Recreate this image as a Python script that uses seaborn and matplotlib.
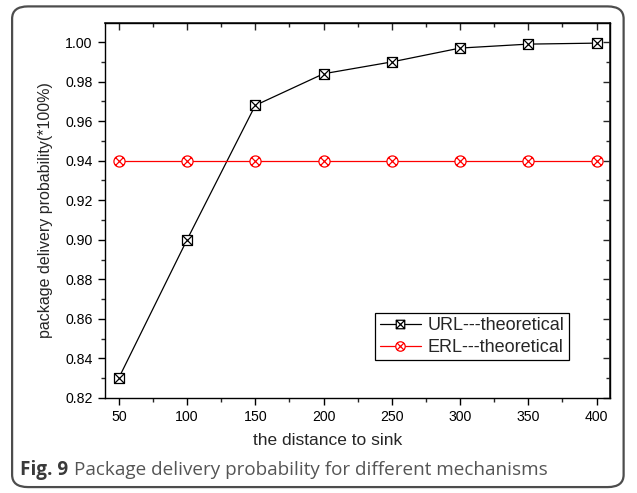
import numpy as np
import matplotlib
matplotlib.use("Agg")
import matplotlib.pyplot as plt
from matplotlib.path import Path
from matplotlib.patches import FancyBboxPatch
from matplotlib.ticker import MultipleLocator
import seaborn as sns

# data
distance = [50, 100, 150, 200, 250, 300, 350, 400]
url_theoretical = [0.830, 0.900, 0.968, 0.984, 0.990, 0.997, 0.999, 0.9995]
erl_theoretical = [0.940, 0.940, 0.940, 0.940, 0.940, 0.940, 0.940, 0.940]
series_labels = ["URL---theoretical", "ERL---theoretical"]
y_ticks = [0.82, 0.84, 0.86, 0.88, 0.90, 0.92, 0.94, 0.96, 0.98, 1.00]
caption_bold = "Fig. 9"
caption_text = "Package delivery probability for different mechanisms"

sns.set_theme(style="white")
plt.rcParams["font.family"] = ["Liberation Sans", "DejaVu Sans"]


def crossed_marker(kind):
    """Square or circle outline with an X drawn inside."""
    verts, codes = [], []
    if kind == "square":
        sq = [(-1, -1), (1, -1), (1, 1), (-1, 1), (-1, -1)]
        verts += sq
        codes += [Path.MOVETO] + [Path.LINETO] * 3 + [Path.CLOSEPOLY]
        d = 1.0
    else:
        circ = Path.unit_circle()
        verts += list(circ.vertices)
        codes += list(circ.codes)
        d = 0.7071
    verts += [(-d, -d), (d, d), (-d, d), (d, -d)]
    codes += [Path.MOVETO, Path.LINETO, Path.MOVETO, Path.LINETO]
    return Path(verts, codes)


fig = plt.figure(figsize=(6.37, 4.93), dpi=100)
ax = fig.add_axes([0.165, 0.193, 0.793, 0.760])

sns.lineplot(x=distance, y=url_theoretical, ax=ax, color="black", lw=0.9,
             marker=crossed_marker("square"), markersize=7.2,
             markerfacecolor="white", markeredgecolor="black",
             markeredgewidth=0.9, label=series_labels[0])
sns.lineplot(x=distance, y=erl_theoretical, ax=ax, color="#ff0000", lw=0.9,
             marker=crossed_marker("circle"), markersize=8,
             markerfacecolor="white", markeredgecolor="#ff0000",
             markeredgewidth=0.9, label=series_labels[1])

ax.set_xlim(40, 410)
ax.set_ylim(0.82, 1.0096)
ax.set_xticks(distance)
ax.set_yticks(y_ticks)
ax.set_yticklabels([f"{v:.2f}" for v in y_ticks])
ax.xaxis.set_minor_locator(MultipleLocator(25))
ax.yaxis.set_minor_locator(MultipleLocator(0.01))

for sp in ax.spines.values():
    sp.set_color("black")
    sp.set_linewidth(1.0)

ax.tick_params(which="major", direction="out", length=5, width=1,
               labelsize=10.2, colors="black", pad=4,
               bottom=True, left=True)
ax.tick_params(which="minor", direction="out", length=3, width=1,
               bottom=True, left=True)

# mirrored inward ticks on top and right
top = ax.secondary_xaxis("top")
top.set_xticks(distance)
top.xaxis.set_minor_locator(MultipleLocator(25))
top.tick_params(which="major", direction="in", length=5, width=1, labeltop=False)
top.tick_params(which="minor", direction="in", length=3, width=1)
right = ax.secondary_yaxis("right")
right.set_yticks(y_ticks)
right.yaxis.set_minor_locator(MultipleLocator(0.01))
right.tick_params(which="major", direction="in", length=5, width=1, labelright=False)
right.tick_params(which="minor", direction="in", length=3, width=1)

ax.set_xlabel("the distance to sink", fontsize=12.5, labelpad=6)
ax.xaxis.label.set_x(0.44)
ax.set_ylabel("package delivery probability(*100%)", fontsize=11.5, labelpad=9)

leg = ax.legend(loc="lower right", bbox_to_anchor=(0.918, 0.10),
                fontsize=13, handlelength=2.3, handletextpad=0.35,
                borderpad=0.25, labelspacing=0.25, borderaxespad=0,
                markerscale=0.85, fancybox=False, framealpha=1)
leg.get_frame().set_edgecolor("black")
leg.get_frame().set_linewidth(0.9)

# rounded figure frame and caption
frame = FancyBboxPatch((0.019, 0.012), 0.96, 0.975,
                       boxstyle="round,pad=0,rounding_size=0.025",
                       transform=fig.transFigure, fill=False,
                       edgecolor="#4d4d4d", lw=1.6)
fig.patches.append(frame)

cap_y = 0.037
t1 = fig.text(0.031, cap_y, caption_bold, fontsize=13.6, fontweight="bold",
              color="#3a3a3a", family=["Open Sans", "DejaVu Sans"], va="baseline")
fig.canvas.draw()
bb = t1.get_window_extent()
x2 = (bb.x1 + 6) / fig.bbox.width
fig.text(x2, cap_y, caption_text, fontsize=13.6, color="#555555",
         family=["Open Sans", "DejaVu Sans"], va="baseline")

fig.savefig("out.png", dpi=100)
